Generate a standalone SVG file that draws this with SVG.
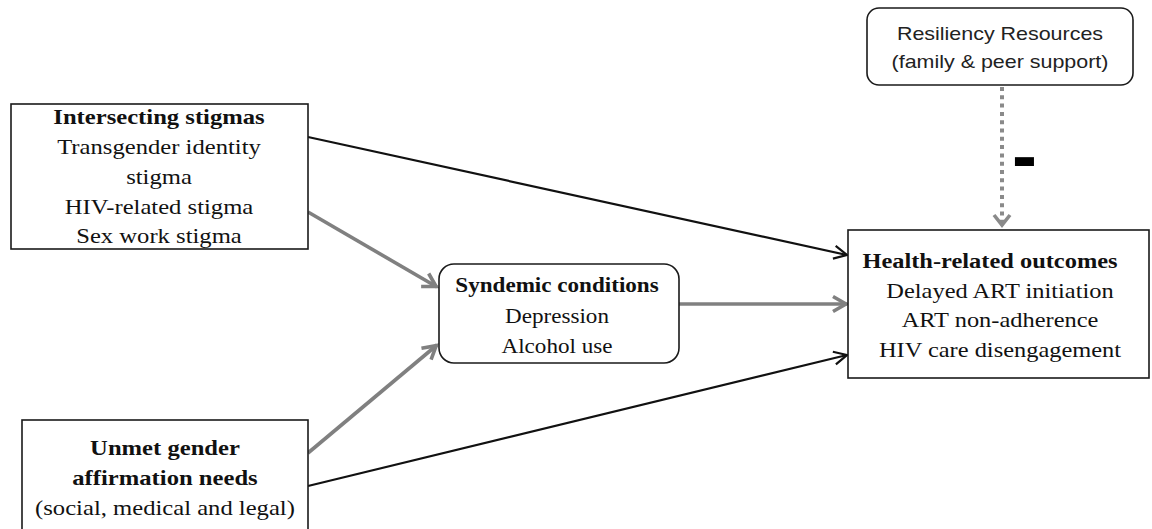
<svg xmlns="http://www.w3.org/2000/svg" width="1152" height="529" viewBox="0 0 1152 529">
<style>
.box{fill:#fff;stroke:#1a1a1a;stroke-width:1.6}
.t{font-family:"Liberation Serif","Times New Roman",serif;font-size:22px;fill:#111;text-anchor:middle}
.b{font-weight:bold}
.s{font-family:"Liberation Sans",Arial,sans-serif;font-size:18.5px;fill:#222;text-anchor:middle}
.blk{stroke:#111;stroke-width:2.2;fill:none}
.gry{stroke:#808080;stroke-width:3.6;fill:none}
.dot{stroke:#8a8a8a;stroke-width:4;stroke-dasharray:4 4.3;fill:none}
</style>
<defs>
<marker id="ab" markerUnits="userSpaceOnUse" markerWidth="20" markerHeight="20" viewBox="-16 -10 20 20" refX="0" refY="0" orient="auto">
<path d="M-13,-6.5 L0,0 L-13,6.5" fill="none" stroke="#111" stroke-width="2.2"/>
</marker>
<marker id="ag" markerUnits="userSpaceOnUse" markerWidth="22" markerHeight="22" viewBox="-18 -11 22 22" refX="0" refY="0" orient="auto">
<path d="M-14,-7.5 L-1,0 L-14,7.5" fill="none" stroke="#808080" stroke-width="3.6"/>
</marker>
<marker id="ad" markerUnits="userSpaceOnUse" markerWidth="22" markerHeight="22" viewBox="-18 -11 22 22" refX="0" refY="0" orient="auto">
<path d="M-11,-8 L-1,0 L-11,8" fill="none" stroke="#8a8a8a" stroke-width="3.6"/>
</marker>
</defs>
<rect width="1152" height="529" fill="#fff"/>
<g id="connectors">
<line class="blk" x1="308" y1="137" x2="847" y2="255" marker-end="url(#ab)"/>
<line class="gry" x1="308" y1="212" x2="437" y2="287" marker-end="url(#ag)"/>
<line class="gry" x1="308" y1="453" x2="437" y2="345" marker-end="url(#ag)"/>
<line class="blk" x1="308" y1="486" x2="847" y2="355" marker-end="url(#ab)"/>
<line class="gry" x1="679" y1="304" x2="847" y2="304" marker-end="url(#ag)"/>
<line class="dot" x1="1002" y1="87" x2="1002" y2="226" marker-end="url(#ad)"/>
</g>
<text id="minus" x="1012" y="181" font-family="Liberation Sans,Arial,sans-serif" font-weight="bold" font-size="75" fill="#000">-</text>
<g id="intersecting">
<rect class="box" x="11" y="104" width="297" height="145"/>
<g transform="translate(159 0) scale(1.12 1) translate(-159 0)">
<text class="t b" x="159" y="124">Intersecting stigmas</text>
<text class="t" x="159" y="154">Transgender identity</text>
<text class="t" x="159" y="184">stigma</text>
<text class="t" x="159" y="214">HIV-related stigma</text>
<text class="t" x="159" y="243">Sex work stigma</text>
</g>
</g>
<g id="unmet">
<rect class="box" x="22" y="420" width="286" height="130"/>
<g transform="translate(165 0) scale(1.12 1) translate(-165 0)">
<text class="t b" x="165" y="455">Unmet gender</text>
<text class="t b" x="165" y="485">affirmation needs</text>
<text class="t" x="165" y="515">(social, medical and legal)</text>
</g>
</g>
<g id="syndemic">
<rect class="box" x="439" y="264" width="240" height="99" rx="15"/>
<g transform="translate(557 0) scale(1.05 1) translate(-557 0)">
<text class="t b" x="557" y="292">Syndemic conditions</text>
<text class="t" x="557" y="323">Depression</text>
<text class="t" x="557" y="353">Alcohol use</text>
</g>
</g>
<g id="health">
<rect class="box" x="848" y="230" width="301" height="148"/>
<g transform="translate(1000 0) scale(1.11 1) translate(-1000 0)">
<text class="t b" x="991" y="268">Health-related outcomes</text>
<text class="t" x="1000" y="298">Delayed ART initiation</text>
<text class="t" x="1000" y="327">ART non-adherence</text>
<text class="t" x="1000" y="357">HIV care disengagement</text>
</g>
</g>
<g id="resiliency">
<rect class="box" x="867" y="8" width="266" height="77" rx="12"/>
<g transform="translate(1000 0) scale(1.16 1) translate(-1000 0)">
<text class="s" x="1000" y="40">Resiliency Resources</text>
<text class="s" x="1000" y="68">(family &amp; peer support)</text>
</g>
</g>
</svg>
